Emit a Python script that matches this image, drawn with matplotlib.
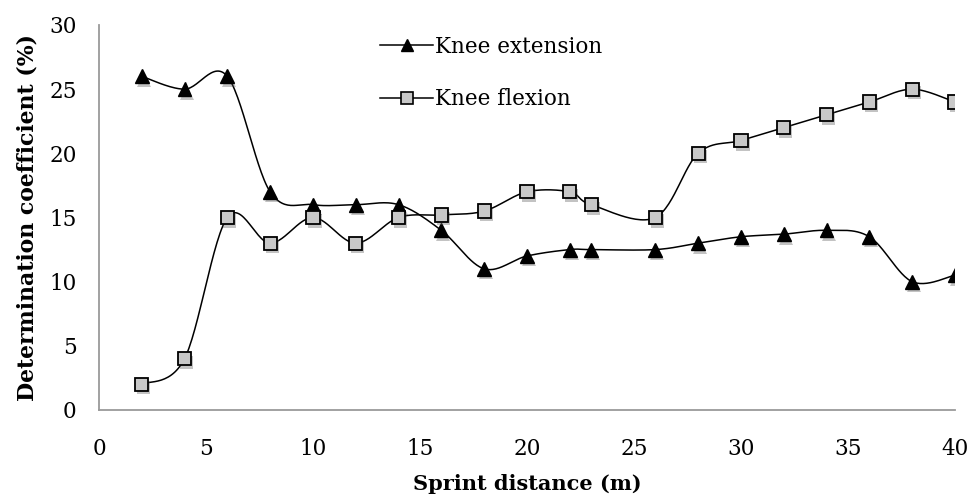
import numpy as np
import matplotlib
matplotlib.use("Agg")
import matplotlib.pyplot as plt
import matplotlib.patheffects as pe

distance = [2, 4, 6, 8, 10, 12, 14, 16, 18, 20, 22, 23, 26, 28, 30, 32, 34, 36, 38, 40]
knee_extension = [26, 25, 26, 17, 16, 16, 16, 14, 11, 12, 12.5, 12.5, 12.5, 13, 13.5, 13.7, 14, 13.5, 10, 10.5]
knee_flexion = [2, 4, 15, 13, 15, 13, 15, 15.2, 15.5, 17, 17, 16, 15, 20, 21, 22, 23, 24, 25, 24]
x_ticks = [0, 5, 10, 15, 20, 25, 30, 35, 40]
y_ticks = [0, 5, 10, 15, 20, 25, 30]

plt.rcParams['font.family'] = ['DejaVu Serif']


def smooth(xs, ys, n=30):
    """Excel-like smoothed line: cubic Bezier with Catmull-Rom control points."""
    xs = np.asarray(xs, float)
    ys = np.asarray(ys, float)
    P = np.column_stack([xs, ys])
    out = []
    for i in range(len(P) - 1):
        p0 = P[i - 1] if i > 0 else P[i]
        p1 = P[i]
        p2 = P[i + 1]
        p3 = P[i + 2] if i + 2 < len(P) else P[i + 1]
        c1 = p1 + (p2 - p0) / 6.0
        c2 = p2 - (p3 - p1) / 6.0
        t = np.linspace(0, 1, n)[:, None]
        seg = ((1 - t) ** 3) * p1 + 3 * ((1 - t) ** 2) * t * c1 + 3 * (1 - t) * t ** 2 * c2 + t ** 3 * p2
        out.append(seg if i == 0 else seg[1:])
    out = np.vstack(out)
    return out[:, 0], out[:, 1]


fig = plt.figure(figsize=(9.73, 5.03), dpi=100)
ax = fig.add_axes([0.1017, 0.1849, 0.8797, 0.7654])

shadow = [pe.SimplePatchShadow(offset=(1.5, -2.5), shadow_rgbFace='#555555', alpha=0.35), pe.Normal()]

sx, sy = smooth(distance, knee_extension)
ax.plot(sx, sy, color='black', lw=1.1, zorder=2)
sx, sy = smooth(distance, knee_flexion)
ax.plot(sx, sy, color='black', lw=1.1, zorder=2)

ax.plot(distance, knee_extension, ls='none', marker='^', ms=10, mfc='black', mec='black',
        zorder=3, path_effects=shadow)
ax.plot(distance, knee_flexion, ls='none', marker='s', ms=9.5, mfc='#c8c8c8', mec='black',
        mew=1.3, zorder=3, path_effects=shadow)

# legend handles
h1, = ax.plot([], [], color='black', lw=1.1, marker='^', ms=8, mfc='black', mec='black')
h2, = ax.plot([], [], color='black', lw=1.1, marker='s', ms=8, mfc='#c8c8c8', mec='black', mew=1.2)
leg = ax.legend([h1, h2], ['Knee extension', 'Knee flexion'], loc='upper left',
                bbox_to_anchor=(0.306, 1.022), frameon=False, fontsize=15.5,
                labelspacing=1.42, handlelength=2.45, handletextpad=0.1)

ax.set_xlim(0, 40)
ax.set_ylim(0, 30)
ax.set_xticks(x_ticks)
ax.set_yticks(y_ticks)
ax.tick_params(axis='both', length=0, labelsize=15.5)
ax.tick_params(axis='x', pad=20)
ax.tick_params(axis='y', pad=16)
for s in ['top', 'right']:
    ax.spines[s].set_visible(False)
for s in ['left', 'bottom']:
    ax.spines[s].set_color('#9a9a9a')
    ax.spines[s].set_linewidth(1.3)

ax.set_xlabel('Sprint distance (m)', fontsize=15, fontweight='bold', labelpad=10)
ax.set_ylabel('Determination coefficient (%)', fontsize=15.8, fontweight='bold', labelpad=8)

fig.savefig('out.png', dpi=100)
